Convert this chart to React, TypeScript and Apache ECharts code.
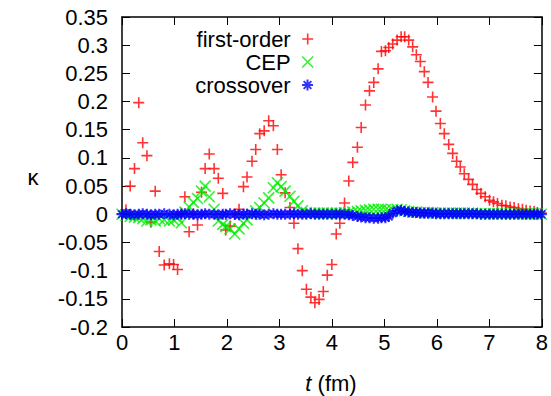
import React, { useEffect, useRef } from "react";
import * as echarts from "echarts";

// time grid (fm)
const times = [
  0.0, 0.076, 0.156, 0.238, 0.319, 0.395, 0.475, 0.551, 0.633, 0.709,
  0.804, 0.903, 0.983, 1.059, 1.131, 1.198, 1.279, 1.359, 1.439, 1.515,
  1.584, 1.663, 1.755, 1.835, 1.92, 1.977, 2.059, 2.148, 2.23, 2.314,
  2.382, 2.477, 2.548, 2.624, 2.709, 2.795, 2.884, 2.96, 3.032, 3.108,
  3.2, 3.276, 3.352, 3.435, 3.513, 3.599, 3.675, 3.755, 3.835, 3.911,
  3.998, 4.082, 4.15, 4.24, 4.321, 4.397, 4.485, 4.557, 4.639, 4.715,
  4.797, 4.88, 4.943, 5.019, 5.082, 5.158, 5.241, 5.318, 5.386, 5.462,
  5.538, 5.608, 5.684, 5.76, 5.831, 5.918, 5.983, 6.065, 6.14, 6.225,
  6.3, 6.375, 6.445, 6.521, 6.603, 6.679, 6.762, 6.838, 6.92, 7.002,
  7.078, 7.154, 7.238, 7.314, 7.395, 7.471, 7.553, 7.629, 7.7, 7.776,
  7.852, 7.914, 7.99,
];

const firstOrder = [
  0.001, 0.008, 0.05, 0.081, 0.198, 0.127, 0.104, -0.014, 0.041, -0.066,
  -0.09, -0.088, -0.089, -0.098, 0.002, 0.031, -0.031, 0.001, -0.019, 0.039,
  0.081, 0.107, 0.081, 0.064, 0.037, -0.028, -0.021, 0.0, 0.009, 0.049,
  0.066, 0.094, 0.115, 0.143, 0.148, 0.166, 0.157, 0.115, 0.07, 0.038,
  0.012, -0.016, -0.061, -0.1, -0.133, -0.147, -0.157, -0.151, -0.137, -0.108,
  -0.089, -0.035, -0.016, 0.02, 0.059, 0.092, 0.119, 0.154, 0.194, 0.219,
  0.234, 0.258, 0.289, 0.29, 0.296, 0.302, 0.309, 0.315, 0.315, 0.309,
  0.297, 0.283, 0.271, 0.253, 0.234, 0.208, 0.183, 0.161, 0.143, 0.124,
  0.108, 0.094, 0.084, 0.072, 0.062, 0.053, 0.044, 0.037, 0.031, 0.025,
  0.022, 0.019, 0.016, 0.015, 0.013, 0.012, 0.01, 0.009, 0.007, 0.006,
  0.005, 0.003, 0.002,
];

const cep = [
  0.0, -0.002, -0.004, -0.005, -0.006, -0.008, -0.012, -0.01, -0.012, -0.008,
  -0.01, -0.012, -0.01, -0.006, -0.015, 0.004, 0.013, 0.021, 0.028, 0.041,
  0.05, 0.031, 0.009, -0.012, -0.018, -0.022, -0.026, -0.035, -0.026, -0.016,
  -0.01, 0.0, 0.006, 0.012, 0.02, 0.029, 0.047, 0.056, 0.049, 0.041,
  0.032, 0.023, 0.015, 0.006, 0.003, 0.002, 0.002, 0.002, 0.002, 0.002,
  0.002, 0.002, 0.002, 0.003, 0.003, 0.004, 0.005, 0.006, 0.007, 0.008,
  0.009, 0.009, 0.009, 0.008, 0.007, 0.008, 0.009, 0.008, 0.006, 0.005,
  0.004, 0.004, 0.003, 0.003, 0.003, 0.003, 0.002, 0.002, 0.002, 0.002,
  0.002, 0.002, 0.002, 0.002, 0.002, 0.002, 0.001, 0.001, 0.001, 0.001,
  0.001, 0.001, 0.001, 0.001, 0.001, 0.001, 0.001, 0.001, 0.001, 0.001,
  0.001, 0.001, 0.0,
];

const crossover = [
  0.0, 0.001, 0.0, -0.001, 0.0, 0.001, 0.0, -0.001, 0.0, 0.0,
  0.001, 0.0, -0.001, 0.0, 0.0, 0.001, 0.0, 0.0, -0.001, 0.0,
  0.001, 0.0, 0.0, -0.001, 0.0, 0.0, 0.001, 0.0, -0.001, 0.0,
  0.0, 0.001, 0.0, 0.0, -0.001, 0.0, 0.001, 0.0, 0.0, 0.0,
  0.0, 0.001, 0.0, 0.0, 0.0, 0.001, 0.0, 0.0, 0.0, 0.0,
  0.0, 0.0, 0.0, 0.0, -0.001, -0.002, -0.004, -0.005, -0.006, -0.006,
  -0.007, -0.007, -0.006, -0.006, -0.004, 0.002, 0.006, 0.007, 0.005, 0.004,
  0.003, 0.003, 0.002, 0.002, 0.002, 0.002, 0.001, 0.001, 0.001, 0.001,
  0.001, 0.001, 0.001, 0.001, 0.001, 0.001, 0.001, 0.0, 0.0, 0.0,
  0.0, 0.0, 0.0, 0.0, 0.0, 0.0, 0.0, 0.0, 0.0, 0.0,
  0.0, 0.0, 0.0,
];

const seriesNames = ["first-order", "CEP", "crossover"];
const xTicks = { min: 0, max: 8, interval: 1 };
const yTicks = { min: -0.2, max: 0.35, interval: 0.05 };

const FONT = "'Liberation Sans', Arial, Helvetica, sans-serif";
const PLUS = "path://M0,5L10,5M5,0L5,10";
const CROSS = "path://M0,0L10,10M10,0L0,10";
const STAR = "path://M0,5L10,5M5,0L5,10M1.5,1.5L8.5,8.5M8.5,1.5L1.5,8.5";

export default function App() {
  const ref = useRef<HTMLDivElement>(null);

  useEffect(() => {
    if (!ref.current) return;
    const chart = echarts.init(ref.current, undefined, { renderer: "svg" });

    const mk = (vals: number[]) => times.map((t, i) => [t, vals[i]]);
    const axisLine = { show: true, onZero: false, lineStyle: { color: "#000", width: 1.5 } };
    const axisTick = { show: true, inside: true, length: 8, lineStyle: { color: "#000", width: 1 } };

    const colors = ["#ff0000", "#00ee00", "#0000ff"];
    const symbols = [PLUS, CROSS, STAR];
    const sizes = [11, 11, 11];
    const widths = [1.6, 1.6, 2];
    const legendTops = [28, 51, 74];

    chart.setOption({
      animation: false,
      backgroundColor: "#fff",
      grid: { left: 122, right: 9, top: 17, bottom: 69, containLabel: false },
      xAxis: [
        {
          type: "value", ...xTicks, position: "bottom",
          axisLine, axisTick,
          axisLabel: { color: "#000", fontSize: 22, fontFamily: FONT, margin: 4 },
          splitLine: { show: false },
        },
        {
          type: "value", ...xTicks, position: "top",
          axisLine, axisTick, axisLabel: { show: false }, splitLine: { show: false },
        },
      ],
      yAxis: [
        {
          type: "value", ...yTicks, position: "left",
          axisLine, axisTick,
          axisLabel: {
            color: "#000", fontSize: 22, fontFamily: FONT, margin: 14,
            formatter: (v: number) => String(parseFloat(v.toFixed(2))),
          },
          splitLine: { show: false },
        },
        {
          type: "value", ...yTicks, position: "right",
          axisLine, axisTick, axisLabel: { show: false }, splitLine: { show: false },
        },
      ],
      legend: seriesNames.map((name, i) => ({
        data: [name],
        orient: "horizontal",
        align: "right",
        right: 237,
        top: legendTops[i],
        itemWidth: 24,
        itemHeight: 11,
        padding: 0,
        selectedMode: false,
        symbolKeepAspect: true,
        textStyle: { color: "#000", fontSize: 22, fontFamily: FONT },
        itemStyle: { color: "rgba(0,0,0,0)", borderColor: colors[i], borderWidth: widths[i] },
      })),
      series: [firstOrder, cep, crossover].map((vals, i) => ({
        name: seriesNames[i],
        type: "scatter",
        data: mk(vals),
        symbol: symbols[i],
        symbolSize: sizes[i],
        itemStyle: { color: "rgba(0,0,0,0)", borderColor: colors[i], borderWidth: widths[i] },
        emphasis: { disabled: true },
        z: 2 + i,
      })),
      graphic: [
        {
          type: "text", x: 33, y: 177,
          style: {
            text: "\u03ba", fontSize: 22, fontFamily: FONT, fill: "#000",
            textAlign: "center", textVerticalAlign: "middle",
          },
        },
        {
          type: "text", x: 331, y: 383,
          style: {
            text: "{i|t} (fm)",
            rich: { i: { fontStyle: "italic", fontSize: 22, fontFamily: FONT, fill: "#000" } },
            fontSize: 22, fontFamily: FONT, fill: "#000",
            textAlign: "center", textVerticalAlign: "middle",
          },
        },
      ],
    });

    return () => chart.dispose();
  }, []);

  return (
    <div
      ref={ref}
      style={{ position: "fixed", left: 0, top: 0, width: 551, height: 396 }}
    />
  );
}
